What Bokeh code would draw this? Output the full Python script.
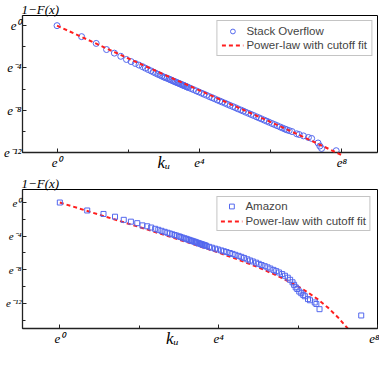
from bokeh.plotting import figure
from bokeh.models import FixedTicker, Range1d, Legend, LegendItem
from bokeh.layouts import column
from bokeh.embed import file_html
from bokeh.resources import INLINE

# ---------------- data (x = ln k_u, y = ln(1-F)) ----------------
SO_X = [0.00, 0.69, 1.10, 1.39, 1.61, 1.79, 1.95, 2.08, 2.20, 2.30, 2.40, 2.48, 2.56, 2.64,
        2.71, 2.77, 2.83, 2.89, 2.94, 3.00, 3.04, 3.09, 3.14, 3.18, 3.22, 3.26, 3.30, 3.33,
        3.37, 3.40, 3.43, 3.47, 3.50, 3.53, 3.56, 3.58, 3.61, 3.64, 3.66, 3.69, 3.76, 3.83,
        3.91, 3.98, 4.06, 4.13, 4.20, 4.28, 4.35, 4.42, 4.50, 4.57, 4.64, 4.72, 4.79, 4.86,
        4.94, 5.01, 5.08, 5.16, 5.23, 5.30, 5.38, 5.45, 5.52, 5.60, 5.67, 5.74, 5.82, 5.89,
        5.96, 6.04, 6.11, 6.18, 6.26, 6.33, 6.40, 6.45, 6.52, 6.60, 6.73, 6.80, 6.92, 7.06,
        7.15, 7.33, 7.38, 7.43, 7.84]
SO_Y = [0.00, -1.04, -1.68, -2.26, -2.60, -2.90, -3.20, -3.40, -3.58, -3.73, -3.88, -4.02,
        -4.15, -4.28, -4.40, -4.50, -4.60, -4.68, -4.77, -4.86, -4.91, -4.98, -5.05, -5.11,
        -5.17, -5.23, -5.29, -5.33, -5.39, -5.43, -5.47, -5.53, -5.58, -5.62, -5.66, -5.69,
        -5.73, -5.78, -5.81, -5.85, -5.95, -6.05, -6.17, -6.27, -6.39, -6.49, -6.59, -6.71,
        -6.81, -6.91, -7.03, -7.13, -7.23, -7.34, -7.45, -7.55, -7.66, -7.76, -7.87, -7.98,
        -8.08, -8.19, -8.30, -8.40, -8.50, -8.62, -8.72, -8.82, -8.94, -9.04, -9.14, -9.26,
        -9.36, -9.46, -9.58, -9.68, -9.78, -9.85, -9.93, -10.02, -10.23, -10.30, -10.43,
        -10.58, -10.67, -11.10, -11.39, -11.62, -11.83]
SO_FIT_X = [0.0, 1.0, 2.0, 3.0, 4.0, 5.0, 6.0, 6.5, 7.0, 7.5, 8.0]
SO_FIT_Y = [0.0, -1.55, -3.10, -4.62, -6.12, -7.62, -9.12, -9.88, -10.66, -11.45, -12.25]

AM_X = [0.00, 0.69, 1.10, 1.39, 1.61, 1.79, 1.95, 2.08, 2.20, 2.30, 2.40, 2.48, 2.56, 2.64,
        2.71, 2.77, 2.83, 2.89, 2.94, 3.00, 3.04, 3.09, 3.14, 3.18, 3.22, 3.26, 3.30, 3.33,
        3.37, 3.40, 3.43, 3.47, 3.50, 3.53, 3.56, 3.58, 3.61, 3.64, 3.66, 3.69, 3.76, 3.83,
        3.91, 3.98, 4.06, 4.13, 4.20, 4.28, 4.35, 4.42, 4.50, 4.57, 4.64, 4.72, 4.79, 4.86,
        4.94, 5.01, 5.08, 5.16, 5.23, 5.30, 5.38, 5.45, 5.52, 5.60, 5.67, 5.74, 5.80, 5.86,
        5.90, 5.94, 5.98, 6.03, 6.08, 6.13, 6.17, 6.25, 6.30, 6.42, 6.46, 6.54, 7.59]
AM_Y = [0.00, -0.95, -1.36, -1.69, -2.06, -2.28, -2.46, -2.72, -2.83, -2.98, -3.13, -3.25,
        -3.37, -3.49, -3.60, -3.69, -3.78, -3.87, -3.94, -4.03, -4.10, -4.18, -4.26, -4.32,
        -4.39, -4.45, -4.52, -4.57, -4.63, -4.68, -4.73, -4.80, -4.85, -4.90, -4.95, -4.98,
        -5.03, -5.08, -5.11, -5.16, -5.28, -5.38, -5.49, -5.59, -5.70, -5.80, -5.90, -6.01,
        -6.12, -6.23, -6.35, -6.47, -6.60, -6.76, -6.90, -7.02, -7.16, -7.30, -7.44, -7.58,
        -7.72, -7.86, -8.02, -8.17, -8.33, -8.52, -8.72, -8.95, -9.20, -9.50, -9.80, -10.10,
        -10.30, -10.60, -10.80, -11.00, -11.16, -11.50, -11.64, -11.90, -12.08, -12.70, -13.45]
AM_FIT_X = [0.0, 0.5, 1.0, 1.5, 2.0, 2.5, 3.0, 3.5, 4.0, 4.5, 5.0, 5.5, 6.0, 6.25, 6.5,
            6.75, 7.0, 7.25]
AM_FIT_Y = [0.0, -0.73, -1.46, -2.19, -2.92, -3.66, -4.41, -5.18, -5.97, -6.81, -7.72,
            -8.76, -9.99, -10.71, -11.54, -12.51, -13.65, -15.0]

X_TICKS = [0, 4, 8]
X_MINOR = [2, 6]
X_LABELS = {0: "e\u2070", 4: "e\u2074", 8: "e\u2078"}
Y_TICKS = [0, -4, -8, -12]
Y_LABELS = {0: "e\u2070", -4: "e\u207b\u2074", -8: "e\u207b\u2078", -12: "e\u207b\u00b9\u00b2"}
TOP_Y_MINOR = [-2, -6, -10]
BOT_Y_MINOR = [-2, -6, -10, -14]
Y_TITLE = "1\u2212F(x)"
X_TITLE = "k\u1d64"

BLUE = "#5468ee"
RED = "#ff1e1e"
SERIF = "Liberation Serif"
SANS = "Liberation Sans"


def panel(xr, yr, y_minor, height, ylab_size, pad):
    p = figure(width=379, height=height, x_range=Range1d(*xr), y_range=Range1d(*yr),
               output_backend="svg", toolbar_location=None,
               min_border_left=18, min_border_right=2, min_border_top=0,
               min_border_bottom=0)
    p.grid.visible = False
    p.outline_line_color = "black"
    p.outline_line_width = 1
    # "1-F(x)" as a left-aligned title just above the frame
    p.title.text = Y_TITLE
    p.title.align = "left"
    p.title.offset = -1
    p.title.standoff = -2
    p.title.text_font = SERIF
    p.title.text_font_style = "italic"
    p.title.text_font_size = "13px"
    p.title.text_color = "black"
    p.xaxis.ticker = FixedTicker(ticks=X_TICKS, minor_ticks=X_MINOR)
    p.yaxis.ticker = FixedTicker(ticks=Y_TICKS, minor_ticks=y_minor)
    p.xaxis.major_label_overrides = X_LABELS
    p.yaxis.major_label_overrides = Y_LABELS
    for ax in (p.xaxis[0], p.yaxis[0]):
        ax.major_tick_in = 4
        ax.major_tick_out = 0
        ax.minor_tick_in = 3
        ax.minor_tick_out = 0
        ax.axis_line_color = "#222222"
        ax.axis_line_width = 1.3
        ax.major_tick_line_color = "#222222"
        ax.minor_tick_line_color = "#222222"
        ax.major_label_text_font = SERIF
        ax.major_label_text_font_style = "italic"
        ax.major_label_text_color = "black"
    p.xaxis.major_label_text_font_size = "13px"
    p.xaxis.major_label_standoff = 2
    p.yaxis.major_label_text_font_size = ylab_size
    p.yaxis.major_label_standoff = 1
    # "k_u" as the x-axis label, lifted into the tick-label band and shifted left
    p.xaxis.axis_label = X_TITLE + "\u00a0" * pad
    p.xaxis.axis_label_text_font = SERIF
    p.xaxis.axis_label_text_font_style = "italic"
    p.xaxis.axis_label_text_font_size = "17px"
    p.xaxis.axis_label_text_color = "black"
    p.xaxis.axis_label_standoff = -20
    return p


def legend(p, items, padding, spacing, margin):
    lg = Legend(items=items, location="top_right", label_text_font=SANS,
                label_text_font_size="11.5px", glyph_height=12, glyph_width=22,
                label_height=12, label_standoff=3, spacing=spacing, padding=padding,
                margin=margin, border_line_color="#8a8a8a", border_line_width=1,
                background_fill_color="white", background_fill_alpha=1)
    p.add_layout(lg)


# ---------------- top panel ----------------
XR1 = (-0.97, 9.0)
YR1 = (-12.0, 0.96)
p1 = panel(XR1, YR1, TOP_Y_MINOR, 174, "13px", 17)
fit1 = p1.line(SO_FIT_X, SO_FIT_Y, line_color=RED, line_width=2, line_dash="4 3")
sc1 = p1.scatter(SO_X, SO_Y, marker="circle", size=6, fill_color=None,
                 line_color=BLUE, line_width=1)
fit1.level = "overlay"
legend(p1, [LegendItem(label="Stack Overflow", renderers=[sc1]),
            LegendItem(label="Power-law with cutoff fit", renderers=[fit1])], 4, 2, 5)

# ---------------- bottom panel ----------------
XR2 = (-0.94, 8.0)
YR2 = (-15.0, 1.55)
p2 = panel(XR2, YR2, BOT_Y_MINOR, 176, "11px", 13)
fit2 = p2.line(AM_FIT_X, AM_FIT_Y, line_color=RED, line_width=2, line_dash="4 3")
sc2 = p2.scatter(AM_X, AM_Y, marker="square", size=5, fill_color=None,
                 line_color=BLUE, line_width=1)
legend(p2, [LegendItem(label="Amazon", renderers=[sc2]),
            LegendItem(label="Power-law with cutoff fit", renderers=[fit2])], 3, 3, 7)

layout = column(p1, p2, spacing=0)
open("out.html", "w").write(file_html(layout, INLINE))
